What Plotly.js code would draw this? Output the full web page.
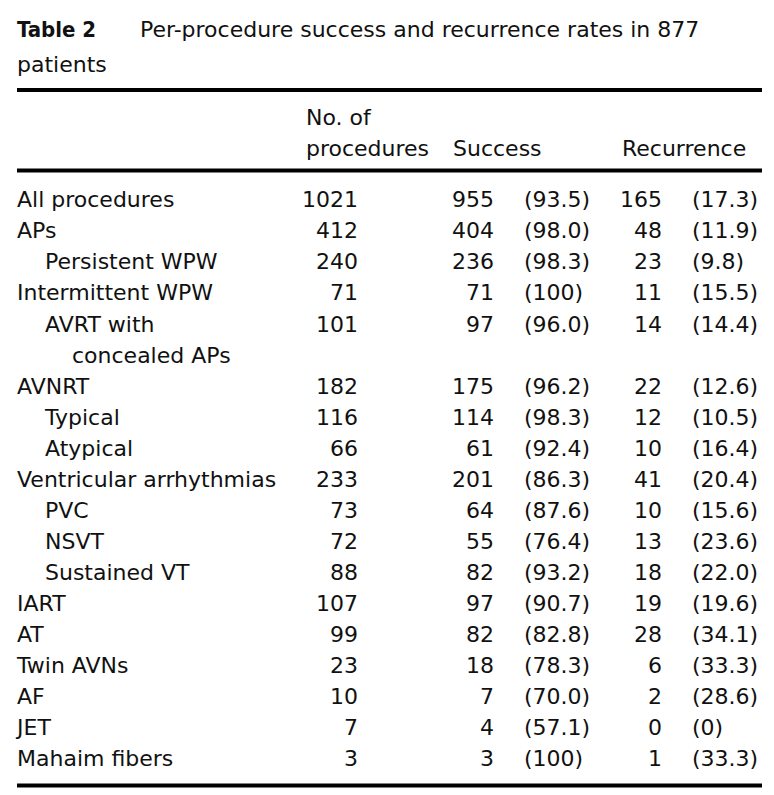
<!DOCTYPE html>
<html>
<head>
<meta charset="utf-8">
<script src="https://cdn.plot.ly/plotly-3.0.1.min.js"></script>
<style>
  html, body { margin: 0; padding: 0; background: #ffffff; }
  #chart { width: 774px; height: 795px; }
</style>
</head>
<body>
<div id="chart"></div>
<script>
// ---------- data ----------
var rowLabels = ["All procedures", "APs", "Persistent WPW", "Intermittent WPW",
  "AVRT with\nconcealed APs", "AVNRT", "Typical", "Atypical", "Ventricular arrhythmias",
  "PVC", "NSVT", "Sustained VT", "IART", "AT", "Twin AVNs", "AF", "JET", "Mahaim fibers"];
var rowLevels = [0, 0, 1, 0, 1, 0, 1, 1, 0, 1, 1, 1, 0, 0, 0, 0, 0, 0];
var procedures = [1021, 412, 240, 71, 101, 182, 116, 66, 233, 73, 72, 88, 107, 99, 23, 10, 7, 3];
var successN = [955, 404, 236, 71, 97, 175, 114, 61, 201, 64, 55, 82, 97, 82, 18, 7, 4, 3];
var successPct = ["93.5", "98.0", "98.3", "100", "96.0", "96.2", "98.3", "92.4", "86.3",
  "87.6", "76.4", "93.2", "90.7", "82.8", "78.3", "70.0", "57.1", "100"];
var recurrenceN = [165, 48, 23, 11, 14, 22, 12, 10, 41, 10, 13, 18, 19, 28, 6, 2, 0, 1];
var recurrencePct = ["17.3", "11.9", "9.8", "15.5", "14.4", "12.6", "10.5", "16.4", "20.4",
  "15.6", "23.6", "22.0", "19.6", "34.1", "33.3", "28.6", "0", "33.3"];
var titleBold = "Table 2";
var titleText = "Per-procedure success and recurrence rates in 877";
var titleText2 = "patients";
var headerProc = ["No. of", "procedures"];
var headerSuccess = "Success";
var headerRecurrence = "Recurrence";

// ---------- layout constants (pixel axes) ----------
var W = 774, H = 795;
var FONT = "DejaVu Sans, sans-serif";
var FS = 22;
var INK = "#111111";
var firstLine = 201.8, pitch = 31.05;
var indentX = [17, 45, 72];
var colProcRight = 358, colSuccRight = 494, colSuccPctLeft = 524,
    colRecRight = 662, colRecPctLeft = 692;
var ruleLeft = 17, ruleRight = 762;
var annPad = 2; // annotation box padding offset

// build label points and row y positions
var labX = [], labY = [], labT = [], rowY = [];
var line = 0;
rowLabels.forEach(function (lab, i) {
  var parts = lab.split("\n");
  rowY.push(firstLine + line * pitch);
  parts.forEach(function (p, k) {
    labX.push(indentX[rowLevels[i] + k]);
    labY.push(firstLine + (line + k) * pitch);
    labT.push(p);
  });
  line += parts.length;
});

function col(x, texts, pos) {
  return {
    type: "scatter", mode: "text",
    x: texts.map(function () { return x; }),
    y: rowY.slice(0, texts.length),
    text: texts, textposition: pos,
    textfont: { family: FONT, size: FS, color: INK },
    hoverinfo: "skip", showlegend: false, cliponaxis: false
  };
}

var traces = [
  { type: "scatter", mode: "text", x: labX, y: labY, text: labT,
    textposition: "middle right", textfont: { family: FONT, size: FS, color: INK },
    hoverinfo: "skip", showlegend: false, cliponaxis: false },
  col(colProcRight, procedures.map(String), "middle left"),
  col(colSuccRight, successN.map(String), "middle left"),
  col(colSuccPctLeft, successPct.map(function (s) { return "(" + s + ")"; }), "middle right"),
  col(colRecRight, recurrenceN.map(String), "middle left"),
  col(colRecPctLeft, recurrencePct.map(function (s) { return "(" + s + ")"; }), "middle right")
];

function ann(x, y, text, extra) {
  var a = { xref: "x", yref: "y", x: x - annPad, y: y, text: text, showarrow: false,
    xanchor: "left", yanchor: "middle",
    font: { family: FONT, size: FS, color: INK } };
  if (extra) for (var k in extra) a[k] = extra[k];
  return a;
}

var annotations = [
  ann(17, 29, "<b>" + titleBold + "</b>",
      { font: { family: "DejaVu Sans Condensed, DejaVu Sans, sans-serif", size: FS, color: INK } }),
  ann(140, 29, titleText),
  ann(17, 64, titleText2),
  ann(306, 117, headerProc[0]),
  ann(306, 148, headerProc[1]),
  ann(453, 148, headerSuccess),
  ann(622, 148, headerRecurrence)
];

function rule(y, w) {
  return { type: "line", xref: "x", yref: "y", x0: ruleLeft, x1: ruleRight, y0: y, y1: y,
    line: { color: "#000000", width: w } };
}

var layout = {
  width: W, height: H,
  margin: { l: 0, r: 0, t: 0, b: 0, pad: 0 },
  paper_bgcolor: "#ffffff", plot_bgcolor: "#ffffff",
  xaxis: { range: [0, W], visible: false, fixedrange: true },
  yaxis: { range: [H, 0], visible: false, fixedrange: true },
  annotations: annotations,
  shapes: [rule(90, 4), rule(170.5, 4), rule(785.5, 4)],
  showlegend: false
};

Plotly.newPlot("chart", traces, layout, { displayModeBar: false, staticPlot: true });
</script>
</body>
</html>
